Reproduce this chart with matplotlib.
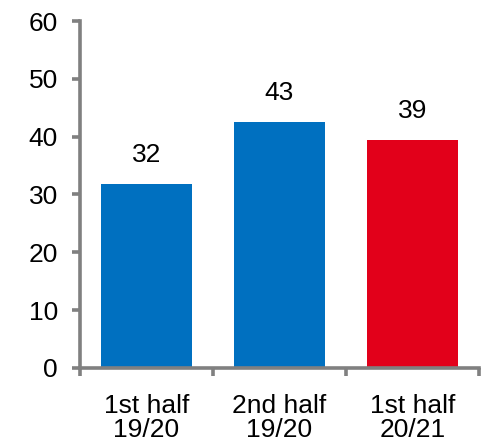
import matplotlib.pyplot as plt

plt.rcParams['font.family'] = ['Liberation Sans', 'DejaVu Sans']

categories = ["1st half\n19/20", "2nd half\n19/20", "1st half\n20/21"]
values = [31.8, 42.6, 39.4]
value_labels = ["32", "43", "39"]
colors = ["#0070C0", "#0070C0", "#E2001A"]

fig = plt.figure(figsize=(4.95, 4.44), dpi=100)
ax = fig.add_axes([0.1616, 0.1712, 0.806, 0.7815])

xs = range(len(categories))
ax.bar(xs, values, width=0.68, color=colors)

for x, v, lab in zip(xs, values, value_labels):
    ax.annotate(lab, (x, v), xytext=(0, 12), textcoords="offset points",
                ha="center", va="bottom", fontsize=19)

ax.set_xlim(-0.5, 2.5)
ax.set_ylim(0, 60)
ax.set_yticks(range(0, 61, 10))

# category borders as ticks, labels at the centres
ax.set_xticks([-0.5, 0.5, 1.5, 2.5])
ax.set_xticklabels([])
ax.set_xticks(list(xs), minor=True)
ax.set_xticklabels(categories, minor=True, fontsize=19, linespacing=1.0)
ax.tick_params(axis="x", which="minor", length=0, pad=19)
ax.tick_params(axis="x", which="major", length=6, width=2.6, color="#808080", direction="out")
ax.tick_params(axis="y", length=6, width=2.6, color="#808080", labelsize=19, pad=10)

for s in ["top", "right"]:
    ax.spines[s].set_visible(False)
for s in ["left", "bottom"]:
    ax.spines[s].set_color("#808080")
    ax.spines[s].set_linewidth(2.6)

fig.savefig("out.png", dpi=100)
